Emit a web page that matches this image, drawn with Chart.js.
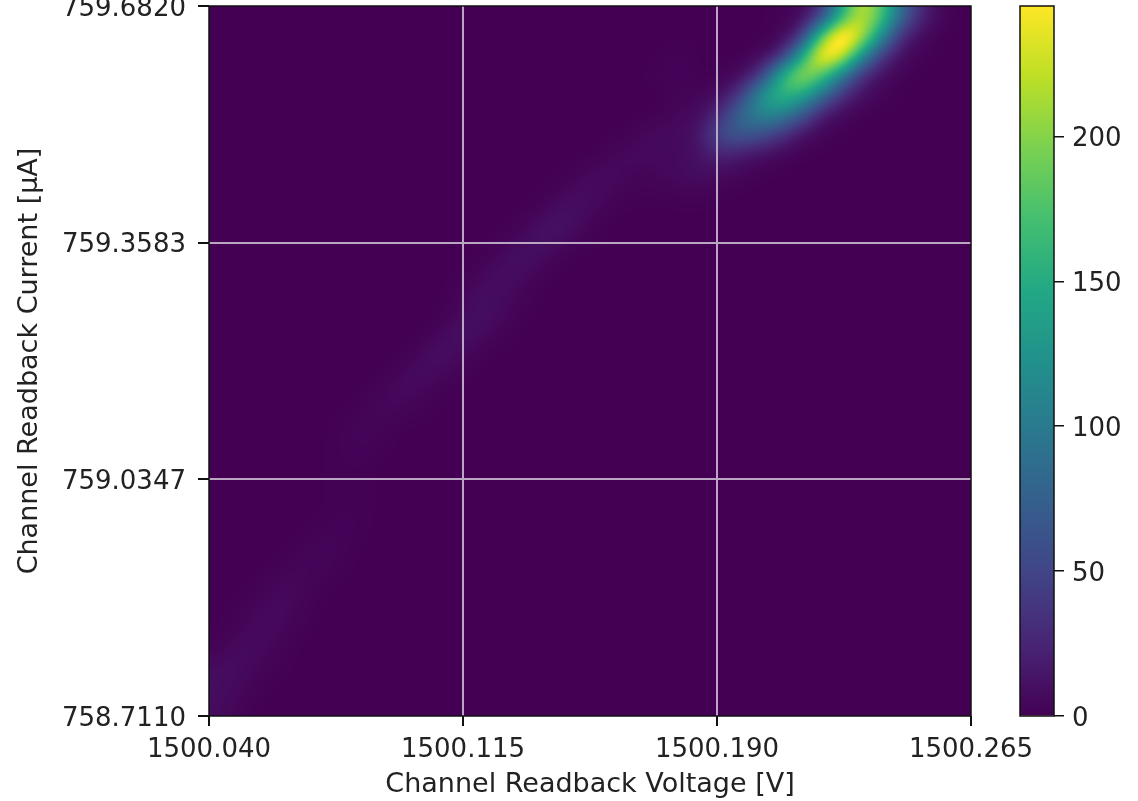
<!DOCTYPE html>
<html>
<head>
<meta charset="utf-8">
<title>Channel readback</title>
<script src="https://cdn.jsdelivr.net/npm/chart.js@4"></script>
<style>
  html, body { margin: 0; padding: 0; background: #fff; overflow: hidden; }
  #main { position: absolute; left: 0; top: 0; }
  #bar { position: absolute; left: 1000px; top: 0; }
</style>
</head>
<body>
<canvas id="main" width="1138" height="801"></canvas>
<canvas id="bar" width="138" height="801"></canvas>
<script>
// === DATA ===
const xTicks = [1500.040, 1500.115, 1500.190, 1500.265];
const yTicks = [758.7110, 759.0347, 759.3583, 759.6820];
const barTicks = [0, 50, 100, 150, 200];
const barMax = 245;
const colCount = 38;

// first filled column of each row (top row first), the rest of the row is 0
const rowStart = [27, 27, 23, 22, 23, 23, 21, 20, 18, 17, 16, 15, 14, 13, 12, 12, 11, 10, 9, 8, 7, 6, 6, 6, 6, 6, 5, 4, 3, 2, 1, 1, 0, 0, 0, 0];
const rowValues = [
  [0, 1, 3, 30, 140, 230, 185, 85, 25, 3],
  [0, 2, 20, 175, 290, 235, 125, 28, 5],
  [2, 0, 0, 0, 2, 15, 130, 270, 250, 130, 38, 7, 1],
  [2, 2, 0, 0, 4, 30, 150, 225, 185, 105, 30, 8, 1],
  [2, 2, 8, 38, 125, 170, 150, 95, 32, 10, 2],
  [5, 6, 30, 85, 115, 110, 70, 16, 4],
  [3, 7, 6, 14, 60, 70, 60, 35, 9, 2],
  [5, 6, 5, 5, 12, 24, 16, 8, 3],
  [2, 7, 5, 3, 4, 7, 9, 6, 3],
  [2, 9, 6, 2, 1, 1, 2, 2],
  [2, 12, 8, 2],
  [2, 12, 11, 3],
  [2, 11, 8, 2],
  [2, 10, 8, 2],
  [2, 8, 8, 3],
  [3, 11, 6, 1],
  [2, 12, 8, 2],
  [2, 11, 7, 1],
  [2, 9, 6, 1],
  [2, 7, 4, 1],
  [1, 5, 3, 1],
  [1, 3, 2],
  [1, 2, 1],
  [1, 1],
  [1, 1],
  [1, 1],
  [1, 2, 1],
  [1, 3, 2],
  [1, 4, 3, 1],
  [1, 5, 4, 1],
  [1, 4, 6, 3],
  [2, 7, 5, 1],
  [1, 7, 6, 2],
  [7, 8, 3, 1],
  [9, 5, 1],
  [7, 2]
];

// viridis
const viridisStops = ['#440154', '#482475', '#414487', '#355f8d', '#2a788e', '#21918c', '#22a884', '#44bf70', '#7ad151', '#bddf26', '#fde725'];

const TEXT = '#222222';
const FONT = 'DejaVu Sans';
const GRID = '#bba7c4';

// === HELPERS ===
const stopRgb = viridisStops.map(h => [1, 3, 5].map(i => parseInt(h.substr(i, 2), 16)));

function viridis(t) {
  const p = Math.min(Math.max(t, 0), 1) * (stopRgb.length - 1);
  const i = Math.min(Math.floor(p), stopRgb.length - 2);
  const f = p - i;
  return stopRgb[i].map((c, k) => c + (stopRgb[i + 1][k] - c) * f);
}

// full grid from the sparse rows
const grid = rowValues.map((vals, r) => {
  const row = new Array(colCount).fill(0);
  vals.forEach((v, i) => { row[rowStart[r] + i] = v; });
  return row;
});

const xMin = xTicks[0], xMax = xTicks[3];
const yMin = yTicks[0], yMax = yTicks[3];
const dx = (xMax - xMin) / colCount;
const dy = (yMax - yMin) / grid.length;

const cells = [];
grid.forEach((row, r) => row.forEach((v, c) => {
  cells.push({ x: xMin + (c + 0.5) * dx, y: yMax - (r + 0.5) * dy, v });
}));

// cubic b-spline, soft like the imshow interpolation of the original
function cubic(a, b, c, d, t) {
  const t2 = t * t, t3 = t2 * t;
  return (a * (1 - 3 * t + 3 * t2 - t3) + b * (4 - 6 * t2 + 3 * t3) + c * (1 + 3 * t + 3 * t2 - 3 * t3) + d * t3) / 6;
}

function sample(cf, rf) {
  const c0 = Math.floor(cf), r0 = Math.floor(rf);
  const at = (r, c) => grid[Math.min(Math.max(r, 0), grid.length - 1)][Math.min(Math.max(c, 0), colCount - 1)];
  const line = [-1, 0, 1, 2].map(k =>
    cubic(at(r0 + k, c0 - 1), at(r0 + k, c0), at(r0 + k, c0 + 1), at(r0 + k, c0 + 2), cf - c0));
  return cubic(line[0], line[1], line[2], line[3], rf - r0);
}

// === PLUGINS ===
const heatPlugin = {
  id: 'heat',
  beforeDatasetsDraw(chart) {
    const { ctx, chartArea: a, scales } = chart;
    const w = Math.round(a.right - a.left), h = Math.round(a.bottom - a.top);
    const off = document.createElement('canvas');
    off.width = w; off.height = h;
    const octx = off.getContext('2d');
    const img = octx.createImageData(w, h);
    for (let py = 0; py < h; py++) {
      const rf = (yMax - scales.y.getValueForPixel(a.top + py + 0.5)) / dy - 0.5;
      for (let px = 0; px < w; px++) {
        const cf = (scales.x.getValueForPixel(a.left + px + 0.5) - xMin) / dx - 0.5;
        const rgb = viridis(sample(cf, rf) / barMax);
        const o = (py * w + px) * 4;
        img.data[o] = rgb[0]; img.data[o + 1] = rgb[1]; img.data[o + 2] = rgb[2]; img.data[o + 3] = 255;
      }
    }
    octx.putImageData(img, 0, 0);
    ctx.drawImage(off, a.left, a.top);
  }
};

const framePlugin = {
  id: 'frame',
  afterDraw(chart) {
    const { ctx, chartArea: a } = chart;
    ctx.save();
    ctx.strokeStyle = '#111';
    ctx.lineWidth = 1.5;
    ctx.strokeRect(a.left, a.top, a.right - a.left, a.bottom - a.top);
    ctx.restore();
  }
};

// y tick labels sit a little under their tick in the original
const labelShiftPlugin = {
  id: 'labelShift',
  beforeDraw(chart) {
    chart.scales.y.getLabelItems().forEach(item => { item.options.translation[1] += 3; });
  }
};

// === MAIN CHART ===
new Chart(document.getElementById('main'), {
  type: 'scatter',
  data: { datasets: [{ data: cells, pointRadius: 0, pointHoverRadius: 0 }] },
  plugins: [heatPlugin, framePlugin, labelShiftPlugin],
  options: {
    responsive: false,
    animation: false,
    events: [],
    devicePixelRatio: 1,
    layout: { padding: { top: 6, right: 167, left: 0, bottom: 0 } },
    plugins: { legend: { display: false }, tooltip: { enabled: false } },
    scales: {
      x: {
        type: 'linear', min: xMin, max: xMax,
        afterBuildTicks: s => { s.ticks = xTicks.map(value => ({ value })); },
        afterFit: s => { s.height = 85; s.paddingLeft = 0; s.paddingRight = 0; },
        grid: {
          z: 1, lineWidth: 2, tickLength: 10, tickColor: '#111',
          color: c => (c.index === 0 || c.index === 3) ? 'rgba(0,0,0,0)' : GRID
        },
        border: { display: false },
        ticks: { color: TEXT, font: { family: FONT, size: 26 }, padding: 9, maxRotation: 0, autoSkip: false,
          callback: v => v.toFixed(3) },
        title: { display: true, text: 'Channel Readback Voltage [V]', color: TEXT,
          font: { family: FONT, size: 27 }, padding: { top: 0, bottom: 0 } }
      },
      y: {
        type: 'linear', min: yMin, max: yMax,
        afterBuildTicks: s => { s.ticks = yTicks.map(value => ({ value })); },
        afterFit: s => { s.width = 209; s.paddingTop = 0; s.paddingBottom = 0; },
        grid: {
          z: 1, lineWidth: 2, tickLength: 11, tickColor: '#111',
          color: c => (c.index === 0 || c.index === 3) ? 'rgba(0,0,0,0)' : GRID
        },
        border: { display: false },
        ticks: { color: TEXT, font: { family: FONT, size: 26 }, padding: 12, autoSkip: false,
          callback: v => v.toFixed(4) },
        title: { display: true, text: 'Channel Readback Current [\u03bcA]', color: TEXT,
          font: { family: FONT, size: 27 }, padding: { top: 14, bottom: 0 } }
      }
    }
  }
});

// === COLORBAR ===
new Chart(document.getElementById('bar'), {
  type: 'bar',
  data: {
    labels: [''],
    datasets: [{
      data: [[0, barMax]],
      barPercentage: 1,
      categoryPercentage: 1,
      backgroundColor: c => {
        const { ctx, chartArea, scales } = c.chart;
        if (!chartArea) return viridisStops[0];
        const g = ctx.createLinearGradient(0, scales.y.getPixelForValue(0), 0, scales.y.getPixelForValue(barMax));
        viridisStops.forEach((col, i) => g.addColorStop(i / (viridisStops.length - 1), col));
        return g;
      }
    }]
  },
  plugins: [framePlugin, labelShiftPlugin],
  options: {
    responsive: false,
    animation: false,
    events: [],
    devicePixelRatio: 1,
    layout: { padding: { top: 6, left: 20, right: 0, bottom: 85 } },
    plugins: { legend: { display: false }, tooltip: { enabled: false } },
    scales: {
      x: { display: false },
      y: {
        position: 'right', min: 0, max: barMax,
        afterBuildTicks: s => { s.ticks = barTicks.map(value => ({ value })); },
        afterFit: s => { s.width = 84; s.paddingTop = 0; s.paddingBottom = 0; },
        grid: { drawOnChartArea: false, tickLength: 10, tickColor: '#111', lineWidth: 1.5 },
        border: { display: false },
        ticks: { color: TEXT, font: { family: FONT, size: 26 }, padding: 8, autoSkip: false }
      }
    }
  }
});
</script>
</body>
</html>
